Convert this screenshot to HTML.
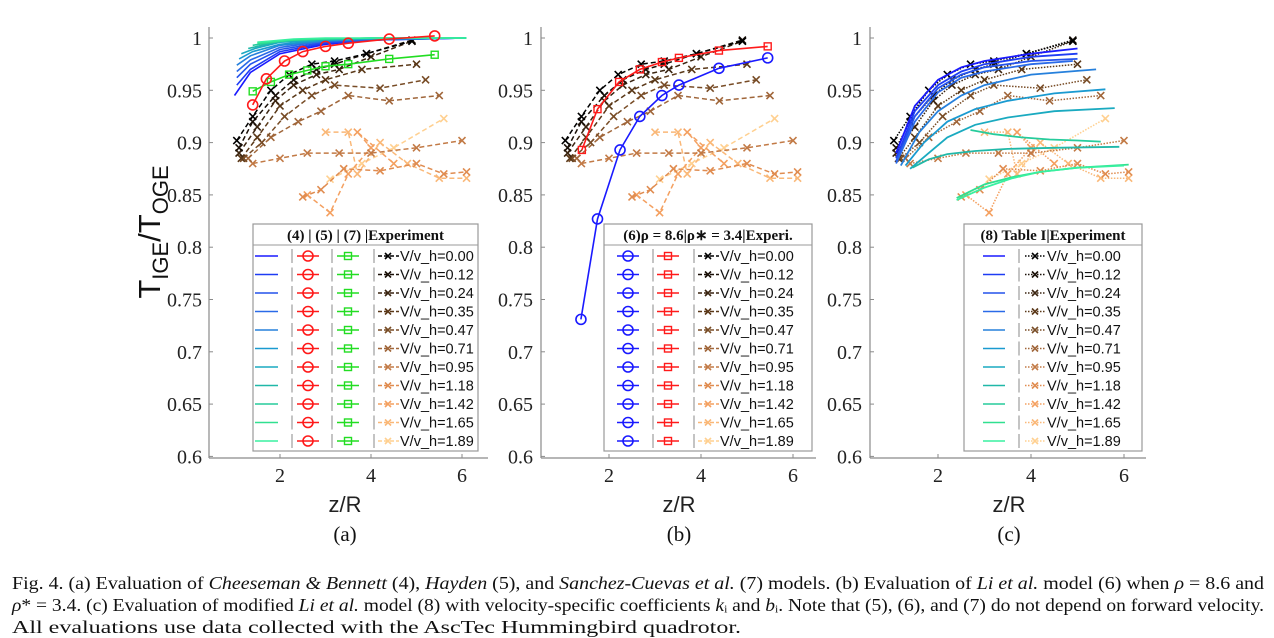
<!DOCTYPE html>
<html><head><meta charset="utf-8"><style>
body{margin:0;background:#fff;}
svg{display:block;font-family:"Liberation Sans",sans-serif;}
.serif{font-family:"Liberation Serif",serif;}
</style></head><body>
<svg id="fig" width="1274" height="638" viewBox="0 0 1274 638" xmlns="http://www.w3.org/2000/svg"></svg>
<script>
// ---- data ----
const speeds = ["0.00","0.12","0.24","0.35","0.47","0.71","0.95","1.18","1.42","1.65","1.89"];
const expColors = ["#000000","#1a1008","#3a2410","#5a3818","#784c26","#a0663a","#c27a46","#e08c50","#f4a060","#fab878","#ffd090"];
const modelColors = ["#1a1aff","#1e3cf4","#2452ec","#2a6ae8","#2680dc","#1a9ad0","#1aaac0","#20b8a8","#26cc9c","#30e090","#38f0a0"];
const expZ = [
 [1.05,1.4,1.8,2.2,2.7,3.2,3.9,4.9],
 [1.1,1.4,1.9,2.3,2.8,3.2,3.9,4.9],
 [1.1,1.5,1.9,2.3,2.8,3.3,4.0,4.9],
 [1.15,1.5,2.0,2.5,3.0,3.8,5.0],
 [1.2,1.6,2.1,2.7,3.2,4.2,5.2],
 [1.3,1.8,2.4,2.9,3.5,4.4,5.5],
 [1.4,2.0,2.6,3.3,4.0,5.0,6.0],
 [2.5,2.9,3.4,4.2,5.0,5.6,6.1],
 [2.6,3.1,3.5,4.0,3.7,4.5],
 [3.0,3.5,3.7,4.2,4.8,5.5,6.1],
 [3.1,3.8,4.5,5.6]
];
const expT = [
 [0.902,0.925,0.95,0.965,0.975,0.978,0.985,0.997],
 [0.895,0.92,0.945,0.96,0.97,0.975,0.985,0.998],
 [0.89,0.915,0.94,0.955,0.965,0.97,0.982,0.997],
 [0.885,0.905,0.935,0.95,0.96,0.97,0.975],
 [0.885,0.90,0.925,0.945,0.955,0.952,0.96],
 [0.885,0.905,0.92,0.93,0.945,0.94,0.945],
 [0.88,0.885,0.89,0.89,0.89,0.895,0.902],
 [0.848,0.855,0.875,0.873,0.88,0.87,0.872],
 [0.85,0.833,0.87,0.895,0.91,0.88],
 [0.91,0.91,0.87,0.9,0.88,0.866,0.866],
 [0.865,0.88,0.895,0.923]
];
// panel a: model (4) per speed
const m4Z = [
 [1.0,1.35,2,3,4,6.1],[1.05,1.35,2,3,4,6.1],[1.05,1.35,2,3,4,6.1],[1.05,1.35,2,3,4,6.1],
 [1.05,1.35,2,3,4,6.1],[1.1,1.4,2,3,4,6.1],[1.15,1.45,2,3,4,6.1],[1.3,1.6,2,3,4,6.1],
 [1.4,1.7,2.2,3,4,6.1],[1.5,1.8,2.3,3,4,6.1],[1.5,1.8,2.3,3,4,6.1]
];
const m4T = [
 [0.945,0.967,0.985,0.994,0.998,1.0],[0.955,0.97,0.987,0.995,0.998,1.0],
 [0.962,0.975,0.989,0.996,0.998,1.0],[0.968,0.979,0.991,0.997,0.999,1.0],
 [0.974,0.983,0.993,0.997,0.999,1.0],[0.98,0.987,0.994,0.998,0.999,1.0],
 [0.985,0.99,0.996,0.998,0.999,1.0],[0.99,0.993,0.997,0.999,1.0,1.0],
 [0.993,0.995,0.998,0.999,1.0,1.0],[0.995,0.996,0.998,0.999,1.0,1.0],
 [0.996,0.997,0.999,1.0,1.0,1.0]
];
const m5Z = [1.4,1.7,2.1,2.5,3.0,3.5,4.4,5.4];
const m5T = [0.936,0.961,0.978,0.987,0.992,0.995,0.999,1.002];
const m7Z = [1.4,1.8,2.2,2.6,3.0,3.5,4.4,5.4];
const m7T = [0.949,0.958,0.965,0.969,0.973,0.975,0.98,0.984];
// panel b
const m6Z = [1.39,1.75,2.24,2.67,3.15,3.52,4.39,5.45];
const m6T = [0.731,0.827,0.893,0.925,0.945,0.955,0.971,0.981];
const mbZ = [1.41,1.75,2.22,2.67,3.15,3.52,4.39,5.45];
const mbT = [0.893,0.932,0.958,0.970,0.977,0.981,0.988,0.992];
// panel c: model (8)
const m8Z = [
 [1.1,1.5,2,2.5,3,4,5],[1.1,1.5,2,2.5,3,4,5],[1.1,1.5,2,2.5,3,4,5],[1.1,1.5,2,2.5,3,4,4.9],
 [1.2,1.6,2,2.5,3,4,5.4],[1.3,1.7,2.2,2.8,3.5,4.5,5.6],[1.4,1.8,2.2,2.8,3.5,4.5,5.8],
 [1.45,1.8,2.2,2.8,3.5,4.5,5.9],[2.7,3.2,3.8,4.4,5.0,5.5],[2.4,3,3.6,4.2,5,6.1],[2.4,3,3.6,4.2,5,6.0]
];
const m8T = [
 [0.89,0.935,0.96,0.972,0.978,0.985,0.99],[0.885,0.93,0.955,0.968,0.975,0.982,0.985],
 [0.882,0.925,0.952,0.965,0.972,0.978,0.98],[0.88,0.92,0.948,0.962,0.968,0.975,0.978],
 [0.878,0.91,0.93,0.945,0.955,0.965,0.97],[0.878,0.9,0.92,0.932,0.94,0.947,0.951],
 [0.875,0.89,0.905,0.917,0.924,0.93,0.933],[0.876,0.884,0.889,0.892,0.894,0.895,0.896],
 [0.912,0.908,0.905,0.903,0.902,0.901],[0.847,0.86,0.867,0.872,0.876,0.879],
 [0.845,0.857,0.866,0.872,0.876,0.878]
];
const yTicks = ["0.6","0.65","0.7","0.75","0.8","0.85","0.9","0.95","1"];
const xTicks = [2,4,6];

const NS="http://www.w3.org/2000/svg";
const svg=document.getElementById('fig');
function mk(tag,attrs,parent,text){const e=document.createElementNS(NS,tag);for(const k in attrs)e.setAttribute(k,attrs[k]);if(text!==undefined)e.textContent=text;(parent||svg).appendChild(e);return e;}

const panels=[
 {id:'a',axisX:209,x2:280,unit:45.5,right:488,labR:202,mid:345},
 {id:'b',axisX:541,x2:609,unit:46,right:816,labR:533,mid:679},
 {id:'c',axisX:870,x2:938,unit:46.5,right:1146,labR:862,mid:1009}
];
function sx(p,z){return p.x2+(z-2)*p.unit;}
function sy(t){return 38+(1-t)*1046;}

function drawAxes(p){
 const g=mk('g',{});
 
 
 mk('line',{x1:p.axisX,y1:27,x2:p.axisX,y2:458,stroke:'#8a8a8a','stroke-width':1.2},g);
 mk('line',{x1:p.axisX,y1:458,x2:p.right,y2:458,stroke:'#8a8a8a','stroke-width':1.2},g);
 yTicks.forEach(v=>{const y=sy(+v);
  mk('line',{x1:p.axisX,y1:y,x2:p.axisX+4,y2:y,stroke:'#8a8a8a'},g);
  const t=mk('text',{x:p.labR,y:y+7,'text-anchor':'end','font-size':20,class:'serif',fill:'#222'},g,v);
  
  
 });
 xTicks.forEach(v=>{const x=sx(p,v);
  mk('line',{x1:x,y1:458,x2:x,y2:454,stroke:'#8a8a8a'},g);
  const t=mk('text',{x:x,y:482,'text-anchor':'middle','font-size':20,class:'serif',fill:'#222'},g,String(v));
  
  
 });
 const xl=mk('text',{x:p.mid,y:512,'text-anchor':'middle','font-size':22,fill:'#222'},g,'z/R');
 
 
 const sub=mk('text',{x:p.mid,y:541,'text-anchor':'middle','font-size':21,class:'serif',fill:'#111'},g,'('+p.id+')');
 
 
}
function poly(p,zs,ts,attrs,name,g){
 const pts=zs.map((z,i)=>sx(p,z).toFixed(1)+','+sy(ts[i]).toFixed(1)).join(' ');
 const e=mk('polyline',Object.assign({points:pts,fill:'none'},attrs),g);
 
 
 return e;
}
function xMark(x,y,c,g,s){s=s||3.5;mk('path',{d:`M${x-s},${y-s}L${x+s},${y+s}M${x-s},${y+s}L${x+s},${y-s}`,stroke:c,'stroke-width':1.6},g);}
function circ(x,y,c,g){mk('circle',{cx:x,cy:y,r:5,fill:'none',stroke:c,'stroke-width':1.6},g);}
function sq(x,y,c,g){mk('rect',{x:x-3.5,y:y-3.5,width:7,height:7,fill:'none',stroke:c,'stroke-width':1.4},g);}

function drawExp(p,dash,g){
 for(let i=speeds.length-1;i>=0;i--){
  poly(p,expZ[i],expT[i],{stroke:expColors[i],'stroke-width':1.5,'stroke-dasharray':dash},'experiment-line-'+speeds[i],g);
  expZ[i].forEach((z,j)=>xMark(sx(p,z),sy(expT[i][j]),expColors[i],g));
 }
}
panels.forEach(drawAxes);

// panel a
const ga=mk('g',{});
drawExp(panels[0],'5,3',ga);
for(let i=0;i<11;i++) poly(panels[0],m4Z[i],m4T[i],{stroke:modelColors[i],'stroke-width':1.6},'model4-curve-'+speeds[i],ga);
poly(panels[0],m7Z,m7T,{stroke:'#22dd22','stroke-width':1.6},'model7-line',ga);
m7Z.forEach((z,j)=>sq(sx(panels[0],z),sy(m7T[j]),'#22dd22',ga));
poly(panels[0],m5Z,m5T,{stroke:'#ff1a1a','stroke-width':1.6},'model5-line',ga);
m5Z.forEach((z,j)=>circ(sx(panels[0],z),sy(m5T[j]),'#ff1a1a',ga));

// panel b
const gb=mk('g',{});
drawExp(panels[1],'5,3',gb);
poly(panels[1],mbZ,mbT,{stroke:'#ff1a1a','stroke-width':1.6},'model-red-line',gb);
mbZ.forEach((z,j)=>sq(sx(panels[1],z),sy(mbT[j]),'#ff1a1a',gb));
poly(panels[1],m6Z,m6T,{stroke:'#1a1aff','stroke-width':1.6},'model6-line',gb);
m6Z.forEach((z,j)=>circ(sx(panels[1],z),sy(m6T[j]),'#1a1aff',gb));

// panel c
const gc=mk('g',{});
drawExp(panels[2],'1.5,1.5',gc);
for(let i=0;i<11;i++) poly(panels[2],m8Z[i],m8T[i],{stroke:modelColors[i],'stroke-width':1.8},'model8-curve-'+speeds[i],gc);

// y-axis title
const yt=mk('text',{transform:'translate(160,232) rotate(-90)','text-anchor':'middle','font-size':31,fill:'#111'});


mk('tspan',{},yt,'T');mk('tspan',{dy:8,'font-size':22},yt,'IGE');mk('tspan',{dy:-8},yt,'/T');mk('tspan',{dy:8,'font-size':22},yt,'OGE');

// legends
function legend(x1,x2,header,cols,textX,name,dash){
 const g=mk('g',{});
 mk('rect',{x:x1,y:224,width:x2-x1,height:227,fill:'#fff',stroke:'#999','stroke-width':1.2},g);
 mk('line',{x1:x1,y1:245,x2:x2,y2:245,stroke:'#999'},g);
 const h=mk('text',{x:(x1+x2)/2,y:240,'text-anchor':'middle','font-size':15,'font-weight':'bold',class:'serif',fill:'#111'},g,header);
 
 for(let i=0;i<11;i++){
  const y=256+i*18.5;
  cols.forEach(c=>c(g,y,i));
  const e=mk('g',{},g);
  
  
  mk('line',{x1:textX-22,y1:y,x2:textX-1,y2:y,stroke:expColors[i],'stroke-width':1.5,'stroke-dasharray':dash},e);
  xMark(textX-12,y,expColors[i],e,3);
  mk('text',{x:textX,y:y+5,'font-size':14.5,fill:'#111'},e,'V/v_h='+speeds[i]);
 }
}
const bar=x=>(g,y)=>mk('line',{x1:x,y1:y-7,x2:x,y2:y+7,stroke:'#888'},g);
const lineC=(x1,x2,col)=>(g,y,i)=>mk('line',{x1:x1,y1:y,x2:x2,y2:y,stroke:col||modelColors[i],'stroke-width':1.6},g);
const circC=(x,col)=>(g,y)=>{mk('line',{x1:x-11,y1:y,x2:x+11,y2:y,stroke:col,'stroke-width':1.6},g);circ(x,y,col,g);};
const sqC=(x,col)=>(g,y)=>{mk('line',{x1:x-11,y1:y,x2:x+11,y2:y,stroke:col,'stroke-width':1.6},g);sq(x,y,col,g);};
legend(253,478,'(4) | (5) | (7) |Experiment',[lineC(255,278),bar(292),circC(308,'#ff1a1a'),bar(332),sqC(348,'#22dd22'),bar(374)],400,'legend-a','4,2');
legend(604,812,'(6)ρ = 8.6|ρ∗ = 3.4|Experi.',[circC(628,'#1a1aff'),bar(653),sqC(668,'#ff1a1a'),bar(694)],720,'legend-b','4,2');
legend(964,1142,'(8) Table I|Experiment',[lineC(983,1005),bar(1019)],1047,'legend-c','1.5,1.5');

// caption
const cap=mk('text',{class:'serif','font-size':18,fill:'#111'});


const l1=mk('tspan',{x:12,y:589,textLength:1252,lengthAdjust:'spacingAndGlyphs'},cap);
l1.innerHTML='Fig. 4.    (a) Evaluation of <tspan font-style="italic">Cheeseman &amp; Bennett</tspan> (4), <tspan font-style="italic">Hayden</tspan> (5), and <tspan font-style="italic">Sanchez-Cuevas et al.</tspan> (7) models. (b) Evaluation of <tspan font-style="italic">Li et al.</tspan> model (6) when <tspan font-style="italic">ρ</tspan> = 8.6 and';
const l2=mk('tspan',{x:12,y:611,textLength:1252,lengthAdjust:'spacingAndGlyphs'},cap);
l2.innerHTML='<tspan font-style="italic">ρ</tspan>* = 3.4. (c) Evaluation of modified <tspan font-style="italic">Li et al.</tspan> model (8) with velocity-specific coefficients <tspan font-style="italic">k</tspan>ᵢ and <tspan font-style="italic">b</tspan>ᵢ. Note that (5), (6), and (7) do not depend on forward velocity.';
const l3=mk('tspan',{x:12,y:633,textLength:729,lengthAdjust:'spacingAndGlyphs'},cap);
l3.textContent='All evaluations use data collected with the AscTec Hummingbird quadrotor.';
</script>
</body></html>
